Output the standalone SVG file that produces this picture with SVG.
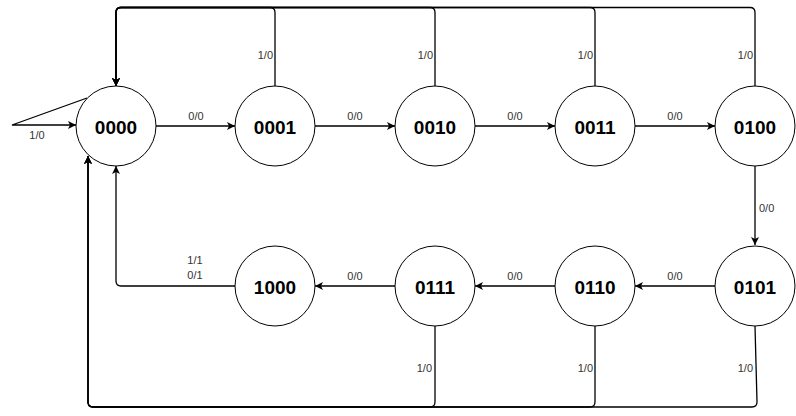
<svg xmlns="http://www.w3.org/2000/svg" width="796" height="416" viewBox="0 0 796 416">
<defs>
<style>
.node circle{fill:#fff;stroke:#000;stroke-width:1}
.node text{font-family:"Liberation Sans",Arial,sans-serif;font-size:19px;font-weight:bold;fill:#000;text-anchor:middle;dominant-baseline:central}
.edge{fill:none;stroke:#000;stroke-width:1.3}
.lbl{font-family:"Liberation Sans",Arial,sans-serif;font-size:11px;fill:#333}
.mid{text-anchor:middle}
.end{text-anchor:end}
</style>
<marker id="arr" markerWidth="10" markerHeight="10" refX="8" refY="4" orient="auto" markerUnits="userSpaceOnUse">
<path d="M0,0 L8,4 L0,8 L2,4 Z" fill="#000"/>
</marker>
</defs>
<rect width="796" height="416" fill="#fff"/>
<g id="connectors">
<path class="edge" d="M275,86 V12.5 Q275,7.5 270,7.5 H121 Q116,7.5 116,12.5 V86" marker-end="url(#arr)"/>
<path class="edge" d="M435,86 V12.5 Q435,7.5 430,7.5 H121 Q116,7.5 116,12.5 V86" marker-end="url(#arr)"/>
<path class="edge" d="M595,86 V12.5 Q595,7.5 590,7.5 H121 Q116,7.5 116,12.5 V86" marker-end="url(#arr)"/>
<path class="edge" d="M755,86 V12.5 Q755,7.5 750,7.5 H121 Q116,7.5 116,12.5 V86" marker-end="url(#arr)"/>
<path class="edge" d="M435,326 V402 Q435,407 430,407 H93 Q88,407 88,402 V156" marker-end="url(#arr)"/>
<path class="edge" d="M595,326 V402 Q595,407 590,407 H93 Q88,407 88,402 V156" marker-end="url(#arr)"/>
<path class="edge" d="M755,326 L757,402 Q757,407 752,407 H93 Q88,407 88,402 V156" marker-end="url(#arr)"/>
<path class="edge" d="M235,286 H121 Q116,286 116,281 V166" marker-end="url(#arr)"/>
<path class="edge" d="M87,98 L12,125 L76,125" marker-end="url(#arr)"/>
<path class="edge" d="M156,126 H235" marker-end="url(#arr)"/>
<path class="edge" d="M315,126 H395" marker-end="url(#arr)"/>
<path class="edge" d="M475,126 H555" marker-end="url(#arr)"/>
<path class="edge" d="M635,126 H715" marker-end="url(#arr)"/>
<path class="edge" d="M755,166 V245" marker-end="url(#arr)"/>
<path class="edge" d="M715,286 H635" marker-end="url(#arr)"/>
<path class="edge" d="M555,286 H475" marker-end="url(#arr)"/>
<path class="edge" d="M395,286 H315" marker-end="url(#arr)"/>
<text class="lbl mid" x="37" y="139">1/0</text>
<text class="lbl mid" x="196" y="120">0/0</text>
<text class="lbl mid" x="355" y="120">0/0</text>
<text class="lbl mid" x="515" y="120">0/0</text>
<text class="lbl mid" x="675" y="120">0/0</text>
<text class="lbl" x="759" y="212">0/0</text>
<text class="lbl mid" x="675" y="280">0/0</text>
<text class="lbl mid" x="515" y="280">0/0</text>
<text class="lbl mid" x="355" y="280">0/0</text>
<text class="lbl mid" x="195" y="264">1/1</text>
<text class="lbl mid" x="195" y="279">0/1</text>
<text class="lbl end" x="273" y="59">1/0</text>
<text class="lbl end" x="433" y="59">1/0</text>
<text class="lbl end" x="593" y="59">1/0</text>
<text class="lbl end" x="753" y="59">1/0</text>
<text class="lbl end" x="432" y="372">1/0</text>
<text class="lbl end" x="593" y="372">1/0</text>
<text class="lbl end" x="753" y="372">1/0</text>
</g>
<g id="s0000" class="node"><circle cx="116" cy="126" r="40"/><text x="116" y="127">0000</text></g>
<g id="s0001" class="node"><circle cx="275" cy="126" r="40"/><text x="275" y="127">0001</text></g>
<g id="s0010" class="node"><circle cx="435" cy="126" r="40"/><text x="435" y="127">0010</text></g>
<g id="s0011" class="node"><circle cx="595" cy="126" r="40"/><text x="595" y="127">0011</text></g>
<g id="s0100" class="node"><circle cx="755" cy="126" r="40"/><text x="755" y="127">0100</text></g>
<g id="s0101" class="node"><circle cx="755" cy="286" r="40"/><text x="755" y="287">0101</text></g>
<g id="s0110" class="node"><circle cx="595" cy="286" r="40"/><text x="595" y="287">0110</text></g>
<g id="s0111" class="node"><circle cx="435" cy="286" r="40"/><text x="435" y="287">0111</text></g>
<g id="s1000" class="node"><circle cx="275" cy="286" r="40"/><text x="275" y="287">1000</text></g>
</svg>
